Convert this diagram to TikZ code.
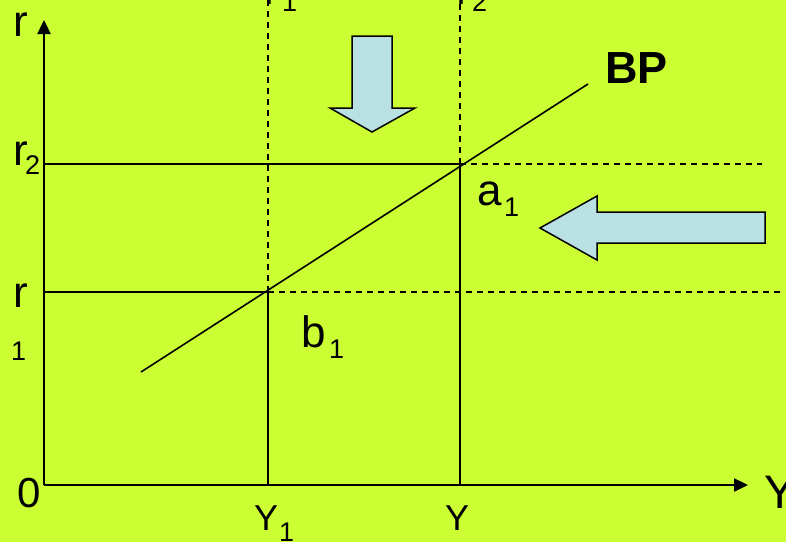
\documentclass[tikz,border=0pt]{standalone}
\usepackage{fontspec}
\setmainfont{Liberation Sans}
\usetikzlibrary{arrows.meta}
\definecolor{bg}{HTML}{CCFF33}
\definecolor{blockfill}{HTML}{B9E0E3}
\tikzset{
  axis/.style={line width=2.4pt, -{Triangle[length=14pt,width=13pt]}},
  solidline/.style={line width=1.6pt},
  dashline/.style={line width=1.5pt, dash pattern=on 6pt off 5pt},
  blockarrow/.style={draw=black, line width=1.5pt, fill=blockfill, line join=miter},
  lbl/.style={inner sep=0pt, anchor=base west, font=\fontsize{44}{48}\selectfont},
  sublbl/.style={inner sep=0pt, anchor=base west, font=\fontsize{27}{30}\selectfont},
  ylbl/.style={inner sep=0pt, anchor=base west, font=\fontsize{36}{40}\selectfont},
}
\begin{document}
\begin{tikzpicture}[x=1pt,y=-1pt]
\fill[bg] (0,0) rectangle (786,542);
\useasboundingbox (0,0) rectangle (786,542);
% key points
\coordinate (O) at (44,485);
\coordinate (ytop) at (44,20);
\coordinate (xend) at (748,485);
\coordinate (r2a) at (44,164);
\coordinate (r1a) at (44,292);
\coordinate (A) at (460,164);
\coordinate (B) at (268,292);
\coordinate (r2e) at (762,164);
\coordinate (r1e) at (780,292);
\coordinate (Ybase) at (460,485);
\coordinate (Y1base) at (268,485);
\coordinate (Atop) at (460,0);
\coordinate (Btop) at (268,0);
\coordinate (bp1) at (141,372);
\coordinate (bp2) at (588,84);
% guide lines
\draw[solidline] (r2a) -- (A);
\draw[dashline] (A) -- (r2e);
\draw[solidline] (r1a) -- (B);
\draw[dashline] (B) -- (r1e);
\draw[solidline] (Ybase) -- (A);
\draw[dashline] (A) -- (Atop);
\draw[solidline] (Y1base) -- (B);
\draw[dashline] (B) -- (Btop);
% BP line
\draw[solidline] (bp1) -- (bp2);
% axes
\draw[axis] (O) -- (ytop);
\draw[axis] (O) -- (xend);
% block arrows
\draw[blockarrow] (352,36) -- (392,36) -- (392,108) -- (415,108) -- (372,132) -- (330,108) -- (352,108) -- cycle;
\draw[blockarrow] (765,212) -- (597,212) -- (597,196) -- (540,228) -- (597,260) -- (597,243) -- (765,243) -- cycle;
% labels
\node[lbl] (lr) at (13,36) {r};
\node[lbl] (lr2) at (13,165) {r};
\node[sublbl] (lr2s) at (25,174) {2};
\node[lbl] (lr1) at (13,307) {r};
\node[sublbl] (lr1s) at (11,360) {1};
\node[lbl, font=\fontsize{42}{46}\selectfont] (l0) at (17,507) {0};
\node[ylbl] (lY1) at (254,530) {Y};
\node[sublbl] (lY1s) at (279,541) {1};
\node[ylbl] (lY) at (445,530) {Y};
\node[lbl, font=\fontsize{47}{50}\selectfont] (lYr) at (764,508) {Y};
\node[lbl] (la) at (477,205) {a};
\node[sublbl] (las) at (504,216) {1};
\node[lbl] (lb) at (301,347) {b};
\node[sublbl] (lbs) at (329,358) {1};
\node[lbl, font=\fontsize{45}{48}\selectfont\bfseries] (lBP) at (605,83) {BP};
\node[ylbl] (lYt1) at (257,4) {Y};
\node[sublbl] (lYt1s) at (282,11) {1};
\node[ylbl] (lYt2) at (449,4) {Y};
\node[sublbl] (lYt2s) at (472,11) {2};
\end{tikzpicture}
\end{document}
